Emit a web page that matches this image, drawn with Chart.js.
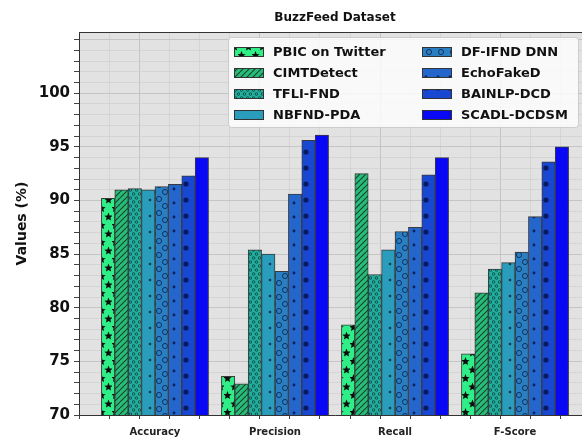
<!DOCTYPE html>
<html>
<head>
<meta charset="utf-8">
<script src="https://cdn.jsdelivr.net/npm/chart.js@4"></script>
<style>
  html, body { margin: 0; padding: 0; background: #fff; overflow: hidden; }
  #wrap { width: 600px; height: 440px; }
</style>
</head>
<body>
<div id="wrap"><canvas id="chart" width="600" height="440"></canvas></div>
<script>
// categories + series
const metrics = ['Accuracy', 'Precision', 'Recall', 'F-Score'];
const methods = ['PBIC on Twitter', 'CIMTDetect', 'TFLI-FND', 'NBFND-PDA',
                 'DF-IFND DNN', 'EchoFakeD', 'BAINLP-DCD', 'SCADL-DCDSM'];
const pbicVals   = [90.2, 73.6, 78.4, 75.7];
const cimtVals   = [91.0, 72.9, 92.5, 81.4];
const tfliVals   = [91.1, 85.4, 83.1, 83.6];
const nbfndVals  = [91.0, 85.0, 85.4, 84.2];
const dfifndVals = [91.3, 83.4, 87.1, 85.2];
const echoVals   = [91.5, 90.6, 87.5, 88.5];
const bainlpVals = [92.3, 95.6, 92.4, 93.6];
const scadlVals  = [94.0, 96.1, 94.0, 95.0];
const yTickStep = 5;

const seriesVals = [pbicVals, cimtVals, tfliVals, nbfndVals, dfifndVals, echoVals, bainlpVals, scadlVals];
const baseColors = ['#2fee88', '#27bd78', '#22ae9c', '#2a9dbc', '#2a7ec2', '#2466cc', '#1848d2', '#0808f4'];

// --- hatch patterns (rough imitation of matplotlib hatches) ---
function makePattern(base, w, h, draw) {
    const c = document.createElement('canvas');
    c.width = w; c.height = h;
    const g = c.getContext('2d');
    g.fillStyle = base; g.fillRect(0, 0, w, h);
    if (draw) draw(g);
    return g.createPattern(c, 'repeat');
}
function star(g, cx, cy, r) {
    g.beginPath();
    for (let i = 0; i < 10; i++) {
        const rr = i % 2 === 0 ? r : r * 0.45;
        const a = -Math.PI / 2 + i * Math.PI / 5;
        const px = cx + rr * Math.cos(a), py = cy + rr * Math.sin(a);
        i === 0 ? g.moveTo(px, py) : g.lineTo(px, py);
    }
    g.closePath(); g.fill();
}
const hatchDraw = [
    g => { g.fillStyle = '#0d0d0d'; star(g, 3.5, 4.5, 4.4); star(g, 10.5, 13, 4.4); },
    g => { g.strokeStyle = 'rgba(15,40,30,0.85)'; g.lineWidth = 1.1;
           [[-6, 6, 0, 0], [0, 6, 6, 0], [6, 6, 12, 0]].forEach(([a, b, c2, d]) => { g.beginPath(); g.moveTo(a, b); g.lineTo(c2, d); g.stroke(); }); },
    g => { g.strokeStyle = 'rgba(10,50,50,0.8)'; g.lineWidth = 0.9;
           [[1.5, 2], [4.5, 6]].forEach(([x, y]) => { g.beginPath(); g.arc(x, y, 1.3, 0, Math.PI * 2); g.stroke(); }); },
    g => { g.fillStyle = 'rgba(10,40,60,0.85)'; g.beginPath(); g.arc(6, 8, 1.3, 0, Math.PI * 2); g.fill(); },
    g => { g.strokeStyle = 'rgba(10,30,70,0.75)'; g.lineWidth = 1;
           [[3, 3], [9, 10]].forEach(([x, y]) => { g.beginPath(); g.arc(x, y, 2.6, 0, Math.PI * 2); g.stroke(); }); },
    g => { g.fillStyle = 'rgba(5,20,70,0.85)'; g.beginPath(); g.arc(6, 7, 1.4, 0, Math.PI * 2); g.fill(); },
    g => { g.fillStyle = 'rgba(5,10,60,0.75)'; g.beginPath(); g.arc(6, 8, 2.6, 0, Math.PI * 2); g.fill(); },
    null
];
const tileSize = [[14, 17], [6, 6], [6, 8], [12, 16], [12, 14], [12, 14], [12, 16], [4, 4]];
const fills = baseColors.map((c, i) => makePattern(c, tileSize[i][0], tileSize[i][1], hatchDraw[i]));

const datasets = methods.map((m, i) => ({
    label: m,
    data: seriesVals[i].map((v, k) => ({ x: k, y: v })),
    backgroundColor: fills[i],
    borderColor: '#3a3a3a',
    borderWidth: 1,
    barThickness: 13.4
}));

const BOLD = { family: 'DejaVu Sans', weight: 'bold' };

const decorPlugin = {
    id: 'decor',
    beforeDraw(chart) {
        const { ctx, chartArea: a } = chart;
        ctx.save();
        ctx.fillStyle = '#e2e2e2';
        ctx.fillRect(a.left, a.top, a.right - a.left, a.bottom - a.top);
        ctx.restore();
    },
    afterDraw(chart) {
        const { ctx, chartArea: a } = chart;
        ctx.save();
        // top spine
        ctx.strokeStyle = '#333'; ctx.lineWidth = 1;
        ctx.beginPath(); ctx.moveTo(a.left, a.top + 0.5); ctx.lineTo(a.right, a.top + 0.5); ctx.stroke();
        // title
        ctx.fillStyle = '#111';
        ctx.font = 'bold 12px "DejaVu Sans"';
        ctx.textAlign = 'center'; ctx.textBaseline = 'middle';
        ctx.fillText('BuzzFeed Dataset', (a.left + a.right) / 2, 18);

        // legend, 2 columns x 4 rows, upper right
        const bx = 228, by = 37, bw = 350, bh = 90;
        ctx.fillStyle = 'rgba(255,255,255,0.8)';
        ctx.strokeStyle = 'rgba(200,200,200,0.9)';
        ctx.beginPath();
        ctx.roundRect(bx + 0.5, by + 0.5, bw, bh, 3);
        ctx.fill(); ctx.stroke();
        ctx.font = 'bold 13px "DejaVu Sans"';
        ctx.textAlign = 'left';
        chart.data.datasets.forEach((ds, i) => {
            const col = Math.floor(i / 4), row = i % 4;
            const px = col === 0 ? 234 : 422;
            const cy = 52 + row * 21;
            ctx.fillStyle = ds.backgroundColor;
            ctx.fillRect(px, cy - 5, 30, 10);
            ctx.strokeStyle = '#333'; ctx.lineWidth = 1;
            ctx.strokeRect(px + 0.5, cy - 4.5, 29, 9);
            ctx.fillStyle = '#111';
            ctx.fillText(ds.label, px + 39, cy + 1);
        });
        ctx.restore();
    }
};

new Chart(document.getElementById('chart'), {
    type: 'bar',
    data: { datasets },
    options: {
        responsive: false,
        animation: false,
        layout: { padding: { top: 32, right: 9, left: 0, bottom: 0 } },
        plugins: { legend: { display: false }, tooltip: { enabled: false } },
        scales: {
            x: {
                type: 'linear', min: -0.633, max: 3.633, offset: false,
                afterBuildTicks: s => {
                    const t = [];
                    for (let v = -0.5; v <= 3.5001; v += 0.25) t.push({ value: Math.round(v * 100) / 100 });
                    s.ticks = t;
                },
                afterFit: s => { s.height = 25; },
                ticks: {
                    autoSkip: false, maxRotation: 0, padding: 7, color: '#222',
                    font: { ...BOLD, size: 10 },
                    callback: v => (Number.isInteger(v) && v >= 0 && v < metrics.length) ? metrics[v] : ''
                },
                grid: {
                    color: c => (c.tick && Number.isInteger(c.tick.value)) ? 'rgba(185,185,185,0.7)' : 'rgba(205,205,205,0.6)',
                    tickLength: 4, tickColor: '#444'
                },
                border: { display: true, color: '#333', width: 1 }
            },
            y: {
                min: 70, max: 105.71,
                afterBuildTicks: s => {
                    const t = [];
                    for (let v = 70; v <= 105; v++) t.push({ value: v });
                    s.ticks = t;
                },
                afterFit: s => { s.width = 79; },
                ticks: {
                    autoSkip: false, padding: 4, color: '#111',
                    font: { ...BOLD, size: 15 },
                    callback: v => (v % yTickStep === 0 && v <= 100) ? v : ''
                },
                grid: {
                    color: c => (c.tick && c.tick.value % yTickStep === 0) ? 'rgba(185,185,185,0.7)' : 'rgba(205,205,205,0.6)',
                    tickLength: 5, tickColor: '#444'
                },
                border: { display: true, color: '#333', width: 1 },
                title: { display: true, text: 'Values (%)', color: '#111', font: { ...BOLD, size: 14 }, padding: { top: 14, bottom: 0 } }
            }
        }
    },
    plugins: [decorPlugin]
});
</script>
</body>
</html>
